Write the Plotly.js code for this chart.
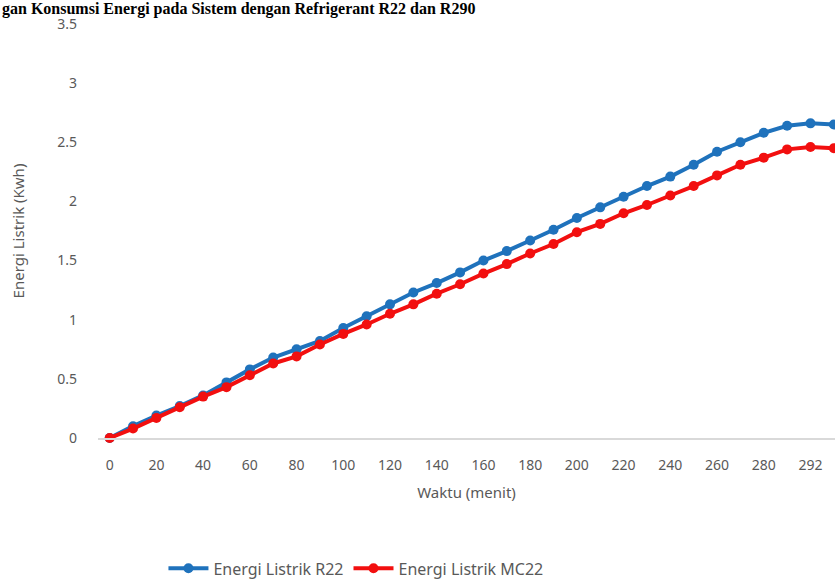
<!DOCTYPE html>
<html>
<head>
<meta charset="utf-8">
<script src="https://cdn.plot.ly/plotly-3.0.1.min.js"></script>
<style>html,body{margin:0;padding:0;background:#fff;overflow:hidden}#chart{width:835px;height:581px}</style>
</head>
<body>
<div id="chart"></div>
<script>
// Categories (time in minutes)
const waktu = ["0","10","20","30","40","50","60","70","80","90","100","110","120","130","140","150","160","170","180","190","200","210","220","230","240","250","260","270","280","290","292","300"];
// Series values (kWh)
const energiR22 = [0,0.10,0.19,0.27,0.36,0.47,0.58,0.68,0.75,0.82,0.93,1.03,1.13,1.23,1.31,1.40,1.50,1.58,1.67,1.76,1.86,1.95,2.04,2.13,2.21,2.31,2.42,2.50,2.58,2.64,2.66,2.65];
const energiMC22 = [0,0.08,0.17,0.26,0.35,0.43,0.53,0.63,0.69,0.79,0.88,0.96,1.05,1.13,1.22,1.30,1.39,1.47,1.56,1.64,1.74,1.81,1.90,1.97,2.05,2.13,2.22,2.31,2.37,2.44,2.46,2.45];
// Tick labels shown on the x axis
const xTickLabels = ["0","20","40","60","80","100","120","140","160","180","200","220","240","260","280","292"];
const yTickVals = [0,0.5,1,1.5,2,2.5,3,3.5];
const titleText = "gan Konsumsi Energi pada Sistem dengan Refrigerant R22 dan R290";

const xTickVals = xTickLabels.map(l => waktu.indexOf(l));
const idx = waktu.map((_, i) => i);
const gray = "#595959";
const fontFam = "Noto Sans, Open Sans, sans-serif";

const traces = [
  {x: idx, y: energiR22, name: "Energi Listrik R22", type: "scatter", mode: "lines+markers",
   line: {color: "#1F72BC", width: 4}, marker: {color: "#1F72BC", size: 10}, cliponaxis: false},
  {x: idx, y: energiMC22, name: "Energi Listrik MC22", type: "scatter", mode: "lines+markers",
   line: {color: "#F20F0F", width: 4}, marker: {color: "#F20F0F", size: 10}, cliponaxis: false}
];

const layout = {
  width: 835, height: 581,
  margin: {l: 98, r: 0, t: 24, b: 143, autoexpand: false},
  paper_bgcolor: "#fff", plot_bgcolor: "#fff",
  showlegend: true,
  font: {family: fontFam, color: gray, size: 14},
  xaxis: {
    automargin: false,
    range: [-0.5, 31.05], tickmode: "array", tickvals: xTickVals, ticktext: xTickLabels,
    showgrid: false, zeroline: false, showline: true, linecolor: "#D9D9D9", linewidth: 1.5,
    ticks: "", ticklabelstandoff: 14, tickfont: {size: 14, color: gray},
    title: {text: "Waktu (menit)", font: {size: 15, color: gray}, standoff: 14}
  },
  yaxis: {
    automargin: false,
    range: [0, 3.5], tickmode: "array", tickvals: yTickVals,
    showgrid: false, zeroline: false, showline: false,
    ticks: "", ticklabelstandoff: 20, tickfont: {size: 14, color: gray},
    title: {text: "Energi Listrik (Kwh)", font: {size: 15, color: gray}, standoff: 28}
  },
  legend: {orientation: "h", x: 0.35, xanchor: "center", y: -0.315, yanchor: "middle",
    font: {size: 16, color: gray}, itemwidth: 40, tracegroupgap: 0},
  annotations: [{
    text: "<b>" + titleText + "</b>", xref: "paper", yref: "paper",
    x: -98/737, xanchor: "left", y: (438+2)/414, yanchor: "top",
    showarrow: false, font: {family: "Liberation Serif, Times New Roman, serif", size: 16, color: "#000"}
  }]
};

Plotly.newPlot("chart", traces, layout, {staticPlot: true, displayModeBar: false});
</script>
</body>
</html>
